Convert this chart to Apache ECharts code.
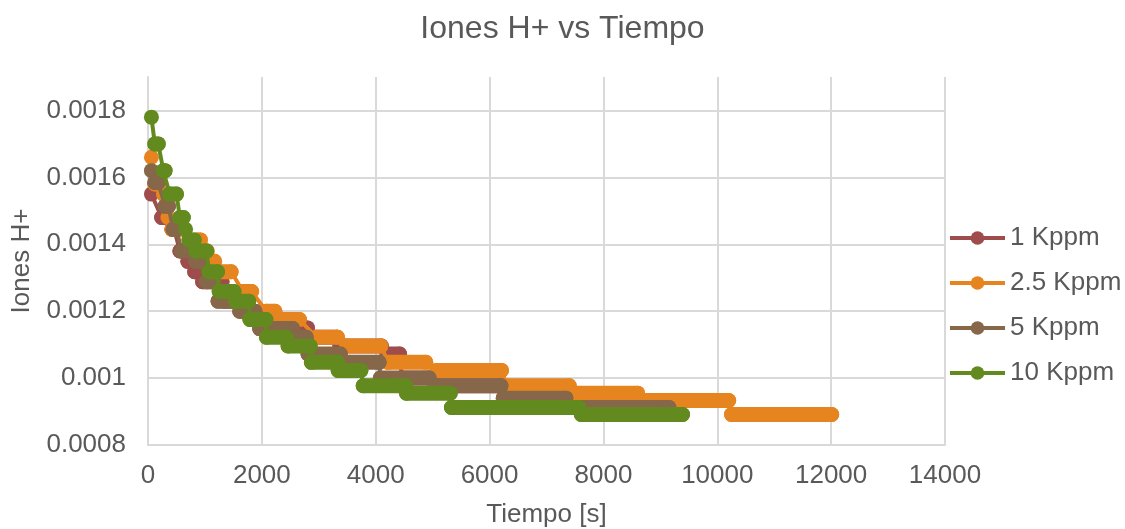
<!DOCTYPE html>
<html>
<head>
<meta charset="utf-8">
<script src="https://cdn.jsdelivr.net/npm/echarts@6/dist/echarts.min.js"></script>
<style>
    html, body { margin: 0; padding: 0; background: #fff; }
    #chart { width: 1125px; height: 529px; }
</style>
</head>
<body>
<div id="chart"></div>
<script>
// Series: [time s, H+ concentration], one point at each end of a level
const seriesNames = ['1 Kppm', '2.5 Kppm', '5 Kppm', '10 Kppm'];
const seriesColors = ['#9e4c4c', '#e6841f', '#86674a', '#638a1f'];

const kppm1 = [
    [60, 0.00155], [240, 0.00148], [300, 0.00148], [420, 0.001445], [460, 0.001445],
    [560, 0.00138], [640, 0.00138], [700, 0.001349], [760, 0.001349], [820, 0.001318],
    [900, 0.001318], [960, 0.001288], [1300, 0.001288], [1340, 0.00123], [1600, 0.00123],
    [1640, 0.0012], [1880, 0.0012], [1920, 0.001175], [2000, 0.001175], [2040, 0.00115],
    [2800, 0.00115], [2840, 0.001122], [3320, 0.001122], [3370, 0.001096], [4100, 0.001096],
    [4200, 0.001072], [4420, 0.001072], [4460, 0.001], [4940, 0.001], [5080, 0.000977],
    [6200, 0.000977], [6260, 0.00094], [7320, 0.00094], [7580, 0.000912], [9100, 0.000912]
];

const kppm2_5 = [
    [60, 0.00166], [120, 0.00158], [180, 0.00158], [270, 0.00155], [350, 0.00148],
    [420, 0.001445], [600, 0.001445], [860, 0.001413], [920, 0.001413], [980, 0.00138],
    [1040, 0.00138], [1100, 0.001349], [1170, 0.001349], [1230, 0.001318], [1460, 0.001318],
    [1670, 0.001259], [1820, 0.001259], [2080, 0.0012], [2230, 0.0012], [2290, 0.001175],
    [2660, 0.001175], [2960, 0.001122], [3330, 0.001122], [3490, 0.001096], [4090, 0.001096],
    [4220, 0.001047], [4880, 0.001047], [5070, 0.001023], [6210, 0.001023], [6300, 0.000977],
    [7400, 0.000977], [7500, 0.000955], [8600, 0.000955], [8650, 0.000933], [10200, 0.000933],
    [10250, 0.000891], [12010, 0.000891]
];

const kppm5 = [
    [60, 0.00162], [120, 0.001585], [180, 0.001585], [300, 0.001514], [360, 0.001514],
    [440, 0.001445], [500, 0.001445], [590, 0.00138], [710, 0.00138], [840, 0.001349],
    [920, 0.001349], [1020, 0.001288], [1150, 0.001288], [1230, 0.00123], [1500, 0.00123],
    [1610, 0.0012], [1880, 0.0012], [1960, 0.001148], [2540, 0.001148], [2580, 0.001122],
    [2780, 0.001122], [2810, 0.001072], [3380, 0.001072], [3540, 0.001047], [4060, 0.001047],
    [4080, 0.001], [4940, 0.001], [5070, 0.000977], [6200, 0.000977], [6240, 0.00094],
    [7340, 0.00094], [7560, 0.000912], [9150, 0.000912]
];

const kppm10 = [
    [60, 0.00178], [120, 0.0017], [180, 0.0017], [270, 0.00162], [300, 0.00162],
    [380, 0.00155], [500, 0.00155], [560, 0.00148], [620, 0.00148], [660, 0.001445],
    [720, 0.001413], [810, 0.001413], [840, 0.00138], [1030, 0.00138], [1070, 0.001318],
    [1220, 0.001318], [1250, 0.001259], [1510, 0.001259], [1540, 0.00123], [1770, 0.00123],
    [1790, 0.001175], [2070, 0.001175], [2080, 0.001122], [2430, 0.001122], [2460, 0.001096],
    [2850, 0.001096], [2870, 0.001047], [3330, 0.001047], [3340, 0.001023], [3740, 0.001023],
    [3780, 0.000977], [4530, 0.000977], [4540, 0.000955], [5310, 0.000955], [5330, 0.000912],
    [7570, 0.000912], [7610, 0.000891], [9390, 0.000891]
];

const seriesData = [kppm1, kppm2_5, kppm5, kppm10];

// Axis ticks
const xMin = 0, xMax = 14000, xStep = 2000;
const yMin = 0.0008, yMax = 0.0019, yStep = 0.0002;

const FONT = 'Liberation Sans';
const TEXT = '#595959';
const GRID = '#d9d9d9';
const MARK = 15;

// Flat runs (same value at both ends) are drawn as a thick round-capped band
function levelRuns(points) {
    const out = [];
    for (let i = 1; i < points.length; i++) {
        if (points[i][1] === points[i - 1][1]) {
            out.push(points[i - 1], points[i], ['-', '-']);
        }
    }
    return out;
}

const series = [];
seriesNames.forEach((name, i) => {
    const color = seriesColors[i];
    series.push({
        name: name,
        type: 'line',
        data: seriesData[i],
        symbol: 'circle',
        symbolSize: MARK,
        showAllSymbol: true,
        clip: false,
        z: 2 + i,
        itemStyle: { color: color },
        lineStyle: { color: color, width: 4 },
        emphasis: { disabled: true },
    });
    series.push({
        name: name,
        type: 'line',
        data: levelRuns(seriesData[i]),
        symbol: 'none',
        clip: false,
        z: 2 + i,
        lineStyle: { color: color, width: MARK, cap: 'round', join: 'round' },
        emphasis: { disabled: true },
    });
});

const chart = echarts.init(document.getElementById('chart'));
chart.setOption({
    animation: false,
    backgroundColor: '#ffffff',
    textStyle: { fontFamily: FONT },
    title: {
        text: 'Iones H+ vs Tiempo',
        left: 'center',
        top: 8,
        textStyle: { color: TEXT, fontSize: 32, fontWeight: 'normal', fontFamily: FONT },
    },
    legend: {
        data: seriesNames,
        orient: 'vertical',
        left: 943,
        top: 220,
        itemWidth: 55,
        itemHeight: 17,
        itemGap: 19,
        lineStyle: { width: 4 },
        textStyle: { color: TEXT, fontSize: 26, fontFamily: FONT },
    },
    grid: {
        left: 148,
        right: 180,
        top: 77,
        bottom: 84,
        outerBoundsMode: 'none',
    },
    xAxis: {
        type: 'value',
        min: xMin,
        max: xMax,
        interval: xStep,
        name: 'Tiempo [s]',
        nameLocation: 'middle',
        nameGap: 57,
        nameTextStyle: { color: TEXT, fontSize: 26, fontFamily: FONT },
        axisLine: { show: true, lineStyle: { color: GRID, width: 2 } },
        axisTick: { show: false },
        axisLabel: {
            color: TEXT,
            fontSize: 26,
            fontFamily: FONT,
            margin: 18,
            formatter: (value) => String(value),
        },
        splitLine: { show: true, lineStyle: { color: GRID, width: 2 } },
    },
    yAxis: {
        type: 'value',
        min: yMin,
        max: yMax,
        interval: yStep,
        name: 'Iones H+',
        nameLocation: 'middle',
        nameGap: 113,
        nameTextStyle: { color: TEXT, fontSize: 26, fontFamily: FONT },
        axisLine: { show: true, lineStyle: { color: GRID, width: 2 } },
        axisTick: { show: false },
        axisLabel: {
            color: TEXT,
            fontSize: 26,
            fontFamily: FONT,
            margin: 22,
            showMaxLabel: false,
            formatter: (value) => String(+value.toFixed(4)),
        },
        splitLine: { show: true, showMaxLine: false, lineStyle: { color: GRID, width: 2 } },
    },
    series,
});
</script>
</body>
</html>
